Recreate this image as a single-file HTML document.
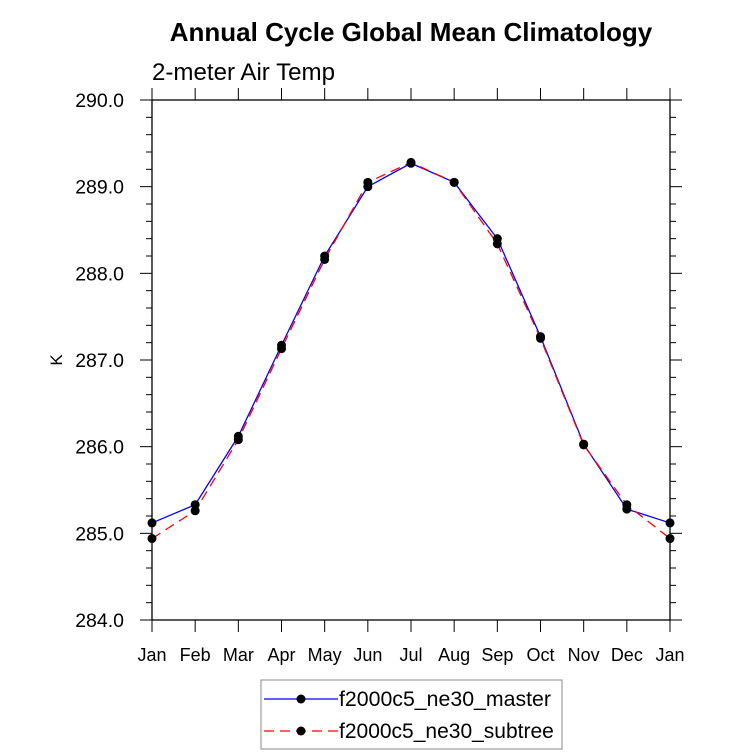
<!DOCTYPE html>
<html><head><meta charset="utf-8">
<style>html,body{margin:0;padding:0;background:#fff}svg{display:block}</style>
</head><body>
<svg id="s" width="733" height="755" xmlns="http://www.w3.org/2000/svg" font-family="Liberation Sans, Arial, sans-serif">
<text x="411" y="41" font-size="26" font-weight="bold" text-anchor="middle">Annual Cycle Global Mean Climatology</text>
<text x="152" y="80" font-size="24" textLength="183" lengthAdjust="spacingAndGlyphs">2-meter Air Temp</text>
<text transform="translate(62,360) rotate(-90)" font-size="17" text-anchor="middle">K</text>
<rect x="152" y="100" width="518" height="520" fill="none" stroke="#000" stroke-width="1.3"/>
<g id="g"></g>
<rect x="261" y="680" width="301" height="69" fill="#fff" stroke="#888" stroke-width="1"/>
<line x1="264" y1="699" x2="338" y2="699" stroke="#00f" stroke-width="1.3"/>
<circle cx="301" cy="699" r="4.5"/>
<text x="339" y="706" font-size="21" textLength="212" lengthAdjust="spacingAndGlyphs">f2000c5_ne30_master</text>
<line x1="264" y1="731" x2="338" y2="731" stroke="#f00" stroke-width="1.3" stroke-dasharray="10,6"/>
<circle cx="301" cy="731" r="4.5"/>
<text x="339" y="738" font-size="21">f2000c5_ne30_subtree</text>
</svg>
<script>
var g=document.getElementById('g'),h='';
function X(i){return 152+i*518/12}
function Y(v){return 620-(v-284)*520/6}
var m=['Jan','Feb','Mar','Apr','May','Jun','Jul','Aug','Sep','Oct','Nov','Dec','Jan'];
for(var i=0;i<=12;i++){var x=X(i);
h+='<line x1="'+x+'" y1="620" x2="'+x+'" y2="632" stroke="#000"/><line x1="'+x+'" y1="100" x2="'+x+'" y2="88" stroke="#000"/>';
h+='<text x="'+x+'" y="661" font-size="18" text-anchor="middle">'+m[i]+'</text>';}
for(var k=0;k<=30;k++){var v=284+k*0.2,y=Y(v),L=(k%5==0)?12:6;
h+='<line x1="152" y1="'+y+'" x2="'+(152-L)+'" y2="'+y+'" stroke="#000"/><line x1="670" y1="'+y+'" x2="'+(670+L)+'" y2="'+y+'" stroke="#000"/>';
if(k%5==0)h+='<text x="124" y="'+(y+7)+'" font-size="19.5" text-anchor="end">'+v.toFixed(1)+'</text>';}
var a=[285.12,285.33,286.12,287.17,288.2,289.0,289.27,289.05,288.4,287.27,286.03,285.28,285.12];
var b=[284.94,285.26,286.08,287.13,288.16,289.05,289.28,289.05,288.34,287.25,286.02,285.33,284.94];
function pl(d,c,da){var p=d.map(function(v,i){return X(i)+','+Y(v)}).join(' ');
return '<polyline points="'+p+'" fill="none" stroke="'+c+'" stroke-width="1.3" '+(da?'stroke-dasharray="10,6"':'')+'/>';}
h+=pl(a,'#00f',0)+pl(b,'#f00',1);
[a,b].forEach(function(d){d.forEach(function(v,i){h+='<circle cx="'+X(i)+'" cy="'+Y(v)+'" r="4.5"/>'})});
g.innerHTML=h;
</script>
</body></html>
